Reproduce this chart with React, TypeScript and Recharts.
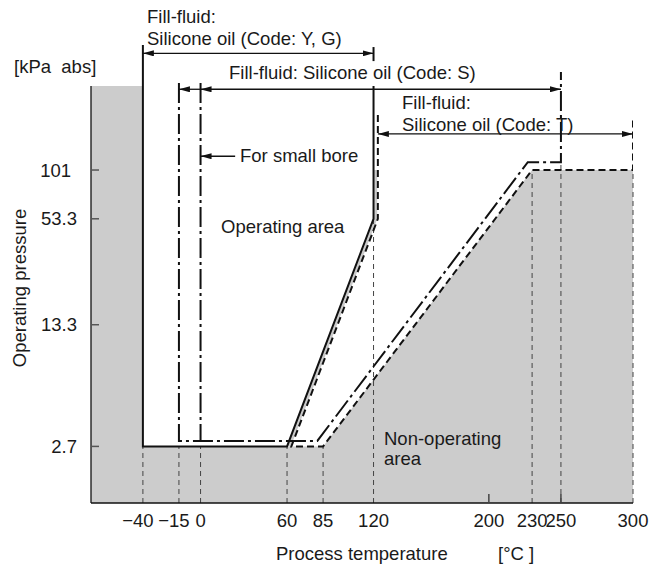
import React from 'react'
import { ComposedChart, XAxis, YAxis, Line, Area, ReferenceLine } from 'recharts'

// process temperature [°C] ticks and operating pressure [kPa abs] ticks
const tempTicks = [-40, -15, 0, 60, 85, 120, 200, 230, 250, 300]
const pressureTicks = [2.7, 13.3, 53.3, 101]

// grey non-operating area (upper edge)
const nonOperating = [
  { t: -76, p: 304 },
  { t: -40, p: 304 },
  { t: -40, p: 2.7 },
  { t: 85, p: 2.7 },
  { t: 230, p: 101 },
  { t: 300, p: 101 },
]
// thin grey strip between the Y,G and T boundaries
const gapStrip = [
  { t: 61.5, p: 2.7 },
  { t: 121.5, p: 53.3 },
  { t: 121.5, p: 101 },
]

// Silicone oil Code Y, G (solid)
const codeYG = [
  { t: -40, p: 520 },
  { t: -40, p: 2.7 },
  { t: 60, p: 2.7 },
  { t: 120, p: 53.3 },
  { t: 120, p: 304 },
]
const codeYGEnd = [
  { t: 120, p: 506 },
  { t: 120, p: 421 },
]
// Silicone oil Code S (dash-dot)
const codeS = [
  { t: -15, p: 316 },
  { t: -15, p: 2.9 },
  { t: 81, p: 2.9 },
  { t: 227, p: 112 },
  { t: 250, p: 112 },
  { t: 250, p: 365 },
]
const smallBore = [
  { t: 0, p: 316 },
  { t: 0, p: 2.9 },
]
// Silicone oil Code T (dashed)
const codeT = [
  { t: 123, p: 208 },
  { t: 123, p: 53.3 },
  { t: 63, p: 2.7 },
  { t: 85, p: 2.7 },
  { t: 230, p: 101 },
  { t: 300, p: 101 },
  { t: 300, p: 195 },
]

// thin dashed drop lines to the temperature axis
const dropLines = [
  { t: -40, p: 2.7 },
  { t: -15, p: 2.7 },
  { t: 0, p: 2.7 },
  { t: 60, p: 2.7 },
  { t: 85, p: 2.7 },
  { t: 120, p: 53.3 },
  { t: 230, p: 101 },
  { t: 250, p: 112 },
  { t: 300, p: 101 },
]

// range arrows
const arrows = [
  { from: -40, to: 120, p: 466, start: true, end: true },
  { from: -15, to: 0, p: 291, start: true, end: false },
  { from: 0, to: 250, p: 291, start: true, end: true },
  { from: 123, to: 300, p: 162, start: true, end: true },
  { from: 24, to: 0, p: 121, start: false, end: true },
]

const T_MIN = -76
const T_MAX = 300
const P_MIN = 1.286
const P_MAX = 555
const P_TOP = 304

const font = "'Liberation Sans', Arial, sans-serif"
const ink = '#1a1a1a'
const fs = 18.5

const PressureTick = (props: any) => {
  const { x, y, payload } = props
  return (
    <g>
      <line x1={x} x2={x + 8} y1={y} y2={y} stroke="#555" strokeWidth={1.5} />
      <text x={x - 14} y={y + 6.5} dx={payload.value === 101 ? -6 : 0} textAnchor="end" fontSize={fs} fontFamily={font} fill={ink}>
        {payload.value}
      </text>
    </g>
  )
}

const TempTick = (props: any) => {
  const { x, y, payload } = props
  const v = payload.value
  const label = v < 0 ? '\u2212' + Math.abs(v) : String(v)
  return (
    <g>
      {(v === 200 || v === 250) && <line x1={x} x2={x} y1={y} y2={y - 9} stroke="#444" strokeWidth={1.5} />}
      <text x={x} y={y + 24} dx={v < 0 ? -5 : 0} textAnchor="middle" fontSize={fs} fontFamily={font} fill={ink}>
        {label}
      </text>
    </g>
  )
}

const arrowShape = (start: boolean, end: boolean) => (props: any) => (
  <line
    x1={props.x1}
    y1={props.y1}
    x2={props.x2}
    y2={props.y2}
    stroke="#111"
    strokeWidth={1.3}
    markerStart={start ? 'url(#ah)' : undefined}
    markerEnd={end ? 'url(#ah)' : undefined}
  />
)

const txt = { fontSize: fs, fontFamily: font, fill: ink }

export default function App() {
  return (
    <div style={{ position: 'absolute', left: 0, top: 0, width: 664, height: 564, background: '#fff' }}>
      <ComposedChart width={664} height={564} margin={{ top: 40, right: 31, bottom: 31, left: 0 }}>
        <XAxis
          type="number"
          dataKey="t"
          domain={[T_MIN, T_MAX]}
          allowDataOverflow
          ticks={tempTicks}
          interval={0}
          height={30}
          tickSize={0}
          tickMargin={0}
          tickLine={false}
          axisLine={{ stroke: '#111', strokeWidth: 1.5 }}
          tick={(p: any) => <TempTick {...p} />}
        />
        <YAxis
          type="number"
          scale="log"
          domain={[P_MIN, P_MAX]}
          allowDataOverflow
          ticks={pressureTicks}
          interval={0}
          width={91}
          tickSize={0}
          tickMargin={0}
          tickLine={false}
          axisLine={false}
          tick={(p: any) => <PressureTick {...p} />}
        />
        <Area
          data={nonOperating}
          dataKey="p"
          type="linear"
          baseValue={P_MIN}
          fill="#cccccc"
          fillOpacity={1}
          stroke="none"
          isAnimationActive={false}
        />
        <Line data={gapStrip} dataKey="p" type="linear" stroke="#cccccc" strokeWidth={3} dot={false} isAnimationActive={false} />
        {dropLines.map((d) => (
          <ReferenceLine
            key={'d' + d.t}
            segment={[{ x: d.t, y: P_MIN }, { x: d.t, y: d.p }]}
            stroke="#444"
            strokeWidth={1}
            strokeDasharray="5 4"
            ifOverflow="visible"
          />
        ))}
        <ReferenceLine segment={[{ x: T_MIN, y: P_MIN }, { x: T_MIN, y: P_TOP }]} stroke="#111" strokeWidth={1.3} ifOverflow="visible" />
        <Line data={codeYG} dataKey="p" type="linear" stroke="#111" strokeWidth={2} dot={false} isAnimationActive={false} />
        <Line data={codeYGEnd} dataKey="p" type="linear" stroke="#111" strokeWidth={2} dot={false} isAnimationActive={false} />
        <Line data={codeS} dataKey="p" type="linear" stroke="#111" strokeWidth={2} strokeDasharray="20 4 3 4" dot={false} isAnimationActive={false} />
        <Line data={smallBore} dataKey="p" type="linear" stroke="#111" strokeWidth={2} strokeDasharray="20 4 3 4" dot={false} isAnimationActive={false} />
        <Line data={codeT} dataKey="p" type="linear" stroke="#111" strokeWidth={2} strokeDasharray="7 4" dot={false} isAnimationActive={false} />
        {arrows.map((a, i) => (
          <ReferenceLine
            key={'a' + i}
            segment={[{ x: a.from, y: a.p }, { x: a.to, y: a.p }]}
            ifOverflow="visible"
            shape={arrowShape(a.start, a.end)}
          />
        ))}
      </ComposedChart>
      <svg width={664} height={564} style={{ position: 'absolute', left: 0, top: 0, pointerEvents: 'none' }}>
        <defs>
          <marker id="ah" viewBox="0 0 11 6" refX={11} refY={3} markerWidth={11} markerHeight={6} markerUnits="userSpaceOnUse" orient="auto-start-reverse">
            <path d="M0,0 L11,3 L0,6 z" fill="#111" />
          </marker>
        </defs>
        <text x={147} y={23} {...txt}>Fill-fluid:</text>
        <text x={147} y={45} {...txt}>Silicone oil (Code: Y, G)</text>
        <text x={14} y={73} {...txt} xmlSpace="preserve">[kPa  abs]</text>
        <text x={229} y={79} {...txt}>Fill-fluid: Silicone oil (Code: S)</text>
        <text x={402} y={109} {...txt}>Fill-fluid:</text>
        <text x={402} y={131} {...txt}>Silicone oil (Code: T)</text>
        <text x={240} y={162} {...txt}>For small bore</text>
        <text x={221} y={233} {...txt}>Operating area</text>
        <text x={384} y={445} {...txt}>Non-operating</text>
        <text x={384} y={465} {...txt}>area</text>
        <text x={276} y={560} {...txt}>Process temperature</text>
        <text x={498} y={560} {...txt}>[°C ]</text>
        <text x={26} y={288} {...txt} textAnchor="middle" transform="rotate(-90 26 288)">Operating pressure</text>
      </svg>
    </div>
  )
}
